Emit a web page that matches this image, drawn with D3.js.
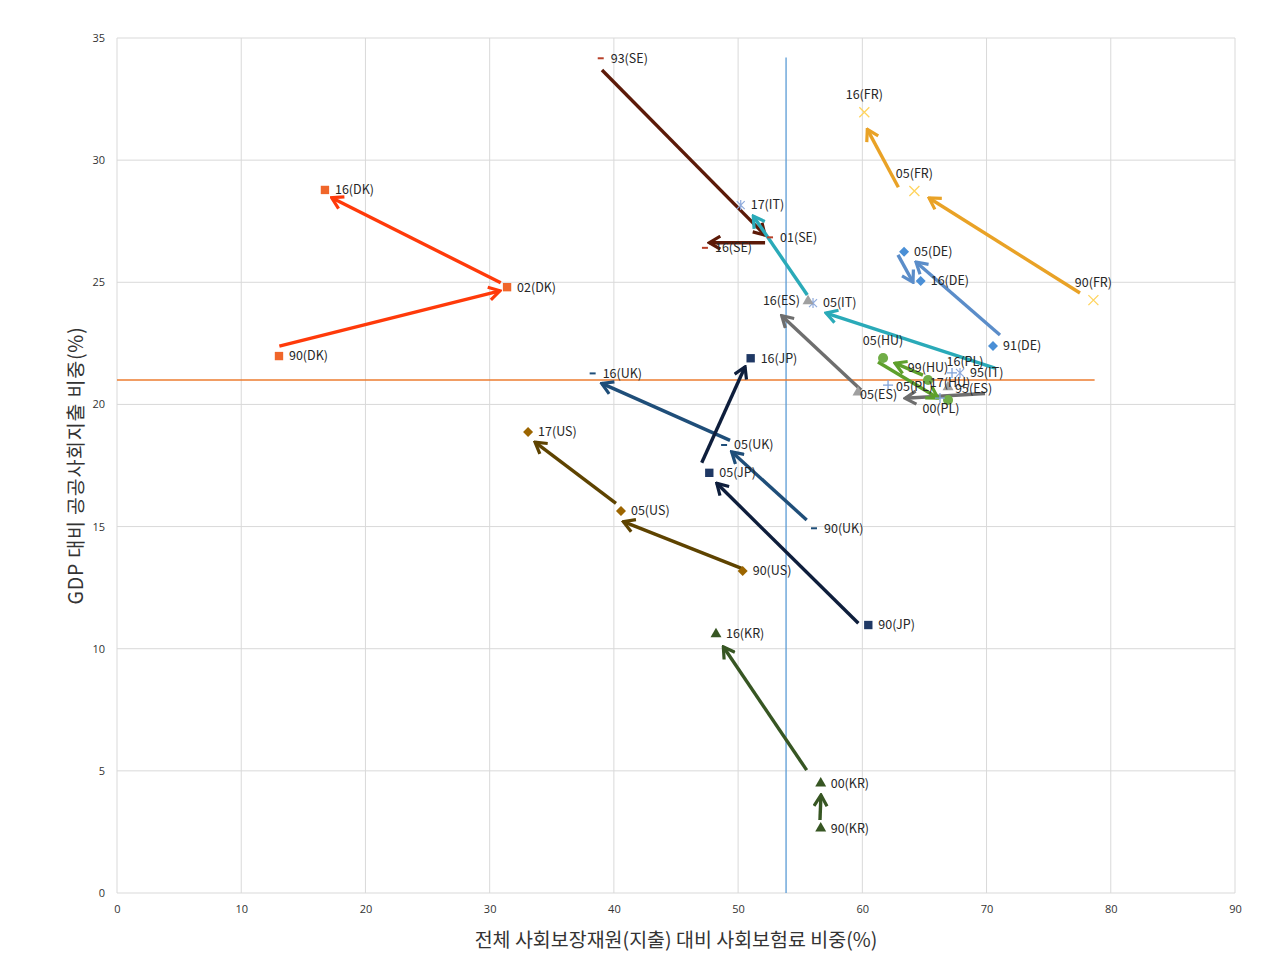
<!DOCTYPE html>
<html>
<head>
<meta charset="utf-8">
<script src="https://cdn.jsdelivr.net/npm/d3@7"></script>
<style>
  body { margin: 0; background: #fff; }
  text { font-family: "Noto Sans CJK KR", "Noto Sans", sans-serif; }
</style>
</head>
<body>
<div id="chart"></div>
<script>
// Social insurance share vs public social spending, by country and year
const pointLabels = [
  "90(DK)", "02(DK)", "16(DK)",
  "93(SE)", "01(SE)", "16(SE)",
  "17(IT)", "05(IT)", "95(IT)",
  "16(ES)", "05(ES)", "95(ES)",
  "91(DE)", "05(DE)", "16(DE)",
  "16(FR)", "05(FR)", "90(FR)",
  "05(HU)", "99(HU)", "17(HU)",
  "05(PL)", "16(PL)", "00(PL)",
  "90(UK)", "05(UK)", "16(UK)",
  "90(JP)", "05(JP)", "16(JP)",
  "90(US)", "05(US)", "17(US)",
  "90(KR)", "00(KR)", "16(KR)"
];
const pointX = [
  13.04, 31.4, 16.74,
  38.94, 52.57, 47.33,
  50.21, 56.03, 67.86,
  55.63, 59.65, 66.9,
  70.52, 63.36, 64.7,
  60.16, 64.19, 78.6,
  61.67, 65.29, 66.9,
  62.07, 67.22, 66.25,
  56.11, 48.87, 38.29,
  60.48, 47.68, 51.01,
  50.37, 40.57, 33.09,
  56.65, 56.65, 48.22
];
const pointY = [
  21.98, 24.8, 28.78,
  34.17, 26.84, 26.41,
  28.16, 24.15, 21.29,
  24.23, 20.5, 20.71,
  22.39, 26.25, 25.05,
  31.96, 28.74, 24.27,
  21.9, 21.0, 20.18,
  20.79, 21.29, 20.26,
  14.93, 18.34, 21.27,
  10.97, 17.2, 21.89,
  13.18, 15.64, 18.87,
  2.65, 4.49, 10.6
];

// hand-drawn trend arrows (start -> end), in data units
const arrowCountry = ["DK", "DK", "SE", "SE", "IT", "IT", "ES", "ES", "DE", "DE", "FR", "FR", "HU", "HU", "US", "US", "UK", "UK", "JP", "JP", "KR", "KR"];
const arrowX1 = [13.07, 30.89, 39.04, 52.17, 70.68, 55.57, 69.88, 59.9, 71.08, 62.87, 77.52, 62.9, 64.88, 61.26, 50.28, 40.17, 55.52, 49.35, 59.68, 47.07, 56.59, 55.52];
const arrowY1 = [22.39, 24.98, 33.69, 26.62, 21.49, 24.48, 20.45, 20.59, 22.84, 26.12, 24.56, 28.89, 21.2, 21.74, 13.29, 15.95, 15.27, 18.53, 11.04, 17.61, 2.99, 5.03];
const arrowX2 = [30.83, 17.28, 52.17, 47.68, 57.08, 51.22, 63.44, 53.51, 64.32, 64.08, 65.37, 60.4, 62.63, 66.09, 40.76, 33.65, 49.48, 39.02, 48.28, 50.56, 56.67, 48.81];
const arrowY2 = [24.65, 28.46, 26.93, 26.62, 23.74, 27.71, 20.25, 23.63, 25.83, 25.0, 28.45, 31.26, 21.69, 20.26, 15.2, 18.46, 18.06, 20.86, 16.77, 21.54, 4.01, 10.08];

// averages
const meanX = 53.86;
const meanY = 21.0;
const meanXTop = 34.2;
const meanYRight = 78.7;

const xTicks = [0, 10, 20, 30, 40, 50, 60, 70, 80, 90];
const yTicks = [0, 5, 10, 15, 20, 25, 30, 35];
const xTitle = "전체 사회보장재원(지출) 대비 사회보험료 비중(%)";
const yTitle = "GDP 대비 공공사회지출 비중(%)";

const W = 1280, H = 968;
const mLeft = 117, mRight = 1235, mTop = 38, mBottom = 893;

const style = {
  DK: { shape: "square", mark: "#F0662A", arrow: "#FF3A0A" },
  SE: { shape: "dash", mark: "#B8412A", arrow: "#5C1A08" },
  IT: { shape: "asterisk", mark: "#8FAADC", arrow: "#2AAAB8" },
  ES: { shape: "triangle", mark: "#A0A0A0", arrow: "#6E6E6E" },
  DE: { shape: "diamond", mark: "#4A8FD6", arrow: "#5B8DC9" },
  FR: { shape: "x", mark: "#FFD45E", arrow: "#E9A226" },
  HU: { shape: "circle", mark: "#70AD47", arrow: "#5EA02C" },
  PL: { shape: "plus", mark: "#7FA2D8", arrow: "#7FA2D8" },
  UK: { shape: "dash", mark: "#1F4E79", arrow: "#1F4E79" },
  JP: { shape: "square", mark: "#1F3864", arrow: "#0E1E3C" },
  US: { shape: "diamond", mark: "#9C6500", arrow: "#5E4300" },
  KR: { shape: "triangle", mark: "#375623", arrow: "#375623" }
};

// where labels sit relative to their marker: [side, dx, dy] (default: right)
const labelPos = {
  "16(FR)": ["top", 0, 0], "05(FR)": ["top", 0, 0], "90(FR)": ["top", 0, 0],
  "05(HU)": ["top", 0, 0], "99(HU)": ["top", 0, 5], "17(HU)": ["top", 2, 0],
  "16(PL)": ["top", 13, 6], "00(PL)": ["bottom", 1, 0], "16(ES)": ["left", 0, 0],
  "05(ES)": ["right", -8, 2], "95(ES)": ["right", -3, 2], "05(PL)": ["right", -2, 1]
};

const x = d3.scaleLinear().domain([0, 90]).range([mLeft, mRight]);
const y = d3.scaleLinear().domain([0, 35]).range([mBottom, mTop]);

const svg = d3.select("#chart").append("svg")
  .attr("width", W).attr("height", H);

// grid
svg.append("g").selectAll("line").data(xTicks).join("line")
  .attr("x1", d => x(d)).attr("x2", d => x(d))
  .attr("y1", mTop).attr("y2", mBottom)
  .attr("stroke", "#D9D9D9").attr("stroke-width", 1);
svg.append("g").selectAll("line").data(yTicks).join("line")
  .attr("x1", mLeft).attr("x2", mRight)
  .attr("y1", d => y(d)).attr("y2", d => y(d))
  .attr("stroke", "#D9D9D9").attr("stroke-width", 1);

// axes (labels only)
const xAxis = svg.append("g").attr("transform", `translate(0,${mBottom})`)
  .call(d3.axisBottom(x).tickValues(xTicks).tickSize(0).tickPadding(12));
const yAxis = svg.append("g").attr("transform", `translate(${mLeft},0)`)
  .call(d3.axisLeft(y).tickValues(yTicks).tickSize(0).tickPadding(12));
[xAxis, yAxis].forEach(a => {
  a.select(".domain").remove();
  a.selectAll("text").attr("font-size", 11).attr("fill", "#333")
    .style("font-family", "'Open Sans', 'Noto Sans', sans-serif");
});

svg.append("text")
  .attr("x", 676).attr("y", 947)
  .attr("text-anchor", "middle").attr("font-size", 19.5).attr("fill", "#333")
  .text(xTitle);
svg.append("text")
  .attr("transform", `translate(83,${(mTop + mBottom) / 2}) rotate(-90)`)
  .attr("text-anchor", "middle").attr("font-size", 19.5).attr("fill", "#333")
  .attr("letter-spacing", 0.8)
  .text(yTitle);

// average lines
svg.append("line")
  .attr("x1", x(meanX)).attr("x2", x(meanX))
  .attr("y1", y(0)).attr("y2", y(meanXTop))
  .attr("stroke", "#5B9BD5").attr("stroke-width", 1.3);
svg.append("line")
  .attr("x1", x(0)).attr("x2", x(meanYRight))
  .attr("y1", y(meanY)).attr("y2", y(meanY))
  .attr("stroke", "#ED7D31").attr("stroke-width", 1.3);

// arrowheads, one per country colour
const defs = svg.append("defs");
Object.keys(style).forEach(c => {
  defs.append("marker")
    .attr("id", "ah-" + c)
    .attr("viewBox", "-14 -8 16 16")
    .attr("refX", 0).attr("refY", 0)
    .attr("markerWidth", 16).attr("markerHeight", 16)
    .attr("markerUnits", "userSpaceOnUse")
    .attr("orient", "auto")
    .append("path")
    .attr("d", "M-11,-6.5 L0,0 L-11,6.5")
    .attr("fill", "none")
    .attr("stroke", style[c].arrow)
    .attr("stroke-width", 3.2)
    .attr("stroke-linejoin", "miter");
});

const arrows = arrowCountry.map((c, i) => ({
  c, x1: arrowX1[i], y1: arrowY1[i], x2: arrowX2[i], y2: arrowY2[i]
}));
svg.append("g").selectAll("line").data(arrows).join("line")
  .attr("x1", d => x(d.x1)).attr("y1", d => y(d.y1))
  .attr("x2", d => x(d.x2)).attr("y2", d => y(d.y2))
  .attr("stroke", d => style[d.c].arrow)
  .attr("stroke-width", 3.4)
  .attr("marker-end", d => `url(#ah-${d.c})`);

// markers
const points = pointLabels.map((l, i) => ({
  label: l, c: l.slice(3, 5), x: pointX[i], y: pointY[i]
}));

const shapePath = {
  square: d3.symbol(d3.symbolSquare, 70)(),
  diamond: "M0,-5L5,0L0,5L-5,0Z",
  triangle: d3.symbol(d3.symbolTriangle, 52)(),
  circle: d3.symbol(d3.symbolCircle, 80)(),
  x: "M-5,-5L5,5M-5,5L5,-5",
  plus: "M-5,0H5M0,-5V5",
  asterisk: "M-4,-4L4,4M-4,4L4,-4M0,-5V5",
  dash: "M-3,0H3"
};
const stroked = { x: 1.3, plus: 1.3, asterisk: 1.2, dash: 2 };

svg.append("g").selectAll("path").data(points).join("path")
  .attr("transform", d => `translate(${x(d.x)},${y(d.y)})`)
  .attr("d", d => shapePath[style[d.c].shape])
  .attr("fill", d => stroked[style[d.c].shape] ? "none" : style[d.c].mark)
  .attr("stroke", d => stroked[style[d.c].shape] ? style[d.c].mark : "none")
  .attr("stroke-width", d => stroked[style[d.c].shape] || 0);

// data labels
svg.append("g").selectAll("text").data(points).join("text")
  .attr("font-size", 12.5)
  .attr("fill", "#262626")
  .each(function (d) {
    const p = labelPos[d.label] || ["right", 0, 0];
    const t = d3.select(this);
    const px = x(d.x) + p[1], py = y(d.y) + p[2];
    if (p[0] === "top") {
      t.attr("x", px).attr("y", py - 13).attr("text-anchor", "middle");
    } else if (p[0] === "bottom") {
      t.attr("x", px).attr("y", py + 15).attr("text-anchor", "middle");
    } else if (p[0] === "left") {
      t.attr("x", px - 8).attr("y", py).attr("dy", "0.35em").attr("text-anchor", "end");
    } else {
      t.attr("x", px + 10).attr("y", py).attr("dy", "0.35em");
    }
  })
  .text(d => d.label);
</script>
</body>
</html>
